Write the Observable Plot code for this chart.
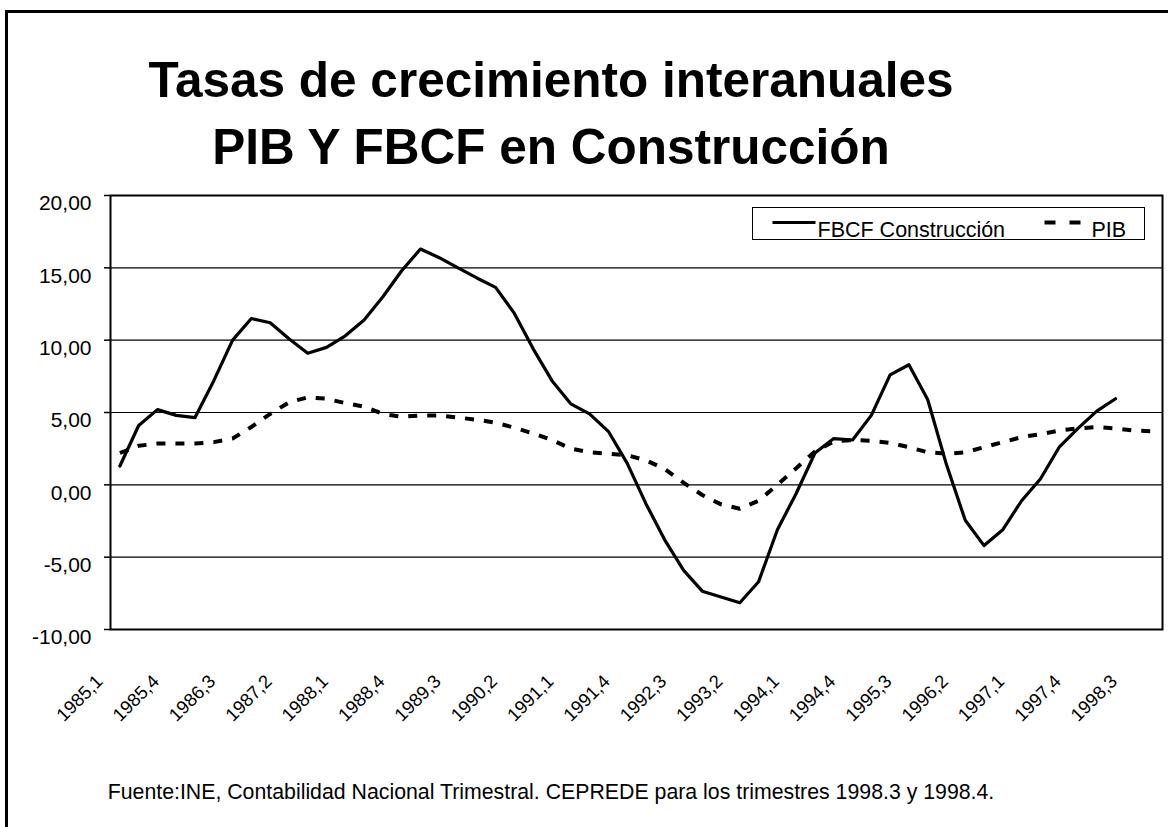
<!DOCTYPE html>
<html>
<head>
<meta charset="utf-8">
<script src="https://cdn.jsdelivr.net/npm/d3@7"></script>
<script src="https://cdn.jsdelivr.net/npm/@observablehq/plot@0.6"></script>
<style>
html, body { margin: 0; padding: 0; background: #fff; }
#wrap { position: relative; width: 1168px; height: 827px; overflow: hidden; font-family: "Liberation Sans", Arial, sans-serif; color: #000; background: #fff; }
#frame { position: absolute; left: 5px; top: 10px; width: 1300px; height: 1000px; border: 3px solid #000; box-sizing: border-box; }
#title { position: absolute; left: 0; top: 46px; width: 1102px; text-align: center; font-weight: bold; font-size: 49.5px; line-height: 67px; white-space: nowrap; }
#chart { position: absolute; left: 0; top: 170px; }
#legend { position: absolute; left: 752px; top: 207px; width: 393px; height: 33px; border: 1.5px solid #000; box-sizing: border-box; background: #fff; }
#legend svg { position: absolute; left: 0; top: 0; overflow: visible; }
#caption { position: absolute; left: 0; top: 780px; width: 1102px; text-align: center; font-size: 21.3px; line-height: 24px; white-space: nowrap; }
</style>
</head>
<body>
<div id="wrap">
  <div id="frame"></div>
  <div id="title">Tasas de crecimiento interanuales<br>PIB Y FBCF en Construcción</div>
  <div id="chart"></div>
  <div id="legend"></div>
  <div id="caption">Fuente:INE, Contabilidad Nacional Trimestral. CEPREDE para los trimestres 1998.3 y 1998.4.</div>
</div>
<script>
// Categories (quarters)
const quarters = [
  "1985,1","1985,2","1985,3","1985,4","1986,1","1986,2","1986,3","1986,4",
  "1987,1","1987,2","1987,3","1987,4","1988,1","1988,2","1988,3","1988,4",
  "1989,1","1989,2","1989,3","1989,4","1990,1","1990,2","1990,3","1990,4",
  "1991,1","1991,2","1991,3","1991,4","1992,1","1992,2","1992,3","1992,4",
  "1993,1","1993,2","1993,3","1993,4","1994,1","1994,2","1994,3","1994,4",
  "1995,1","1995,2","1995,3","1995,4","1996,1","1996,2","1996,3","1996,4",
  "1997,1","1997,2","1997,3","1997,4","1998,1","1998,2","1998,3","1998,4"
];

// Series: FBCF Construcción (to 1998,2)
const fbcf = [
  1.3, 4.1, 5.2, 4.8, 4.65, 7.2, 10.0, 11.5,
  11.2, 10.1, 9.1, 9.5, 10.3, 11.4, 13.0, 14.8,
  16.3, 15.7, 15.0, 14.3, 13.65, 11.85, 9.4, 7.2,
  5.6, 4.9, 3.7, 1.5, -1.3, -3.8, -5.9, -7.35,
  -7.75, -8.15, -6.7, -3.1, -0.6, 2.2, 3.2, 3.1,
  4.8, 7.6, 8.3, 5.9, 1.4, -2.45, -4.2, -3.1,
  -1.1, 0.4, 2.6, 3.9, 5.1, 5.95
];

// Series: PIB (to 1998,4)
const pib = [
  2.2, 2.7, 2.85, 2.85, 2.85, 2.95, 3.2, 4.0,
  4.9, 5.7, 6.05, 5.95, 5.65, 5.4, 4.9, 4.7,
  4.8, 4.8, 4.65, 4.5, 4.3, 3.95, 3.55, 3.1,
  2.5, 2.25, 2.15, 2.05, 1.7, 1.1, 0.15, -0.7,
  -1.35, -1.65, -1.1, 0.0, 1.15, 2.3, 3.0, 3.1,
  3.05, 2.9, 2.6, 2.25, 2.15, 2.25, 2.6, 2.95,
  3.3, 3.5, 3.75, 3.9, 4.0, 3.9, 3.75, 3.7
];

// Tick labels
const xTickLabels = ["1985,1","1985,4","1986,3","1987,2","1988,1","1988,4","1989,3","1990,2","1991,1","1991,4","1992,3","1993,2","1994,1","1994,4","1995,3","1996,2","1997,1","1997,4","1998,3"];
const yTicks = [-10, -5, 0, 5, 10, 15, 20];

const seriesNames = ["FBCF Construcción", "PIB"];

const rowsF = fbcf.map((v, i) => ({i, q: quarters[i], v}));
const rowsP = pib.map((v, i) => ({i, q: quarters[i], v}));
const xTicks = xTickLabels.map(l => ({i: quarters.indexOf(l), l}));
const fmt = d => d.toFixed(2).replace(".", ",");

const chart = Plot.plot({
  width: 1168,
  height: 560,
  marginTop: 25,
  marginBottom: 101,
  marginLeft: 110,
  marginRight: 6,
  style: {background: "transparent", overflow: "visible", fontFamily: "'Liberation Sans', Arial, sans-serif", color: "#000"},
  x: {domain: [-0.5, quarters.length - 0.5], axis: null},
  y: {domain: [-10, 20], axis: null},
  marks: [
    Plot.ruleY(yTicks.filter(d => d > -10 && d < 20), {stroke: "#000", strokeWidth: 1.2}),
    Plot.axisY(yTicks, {tickSize: 6, tickFormat: () => "", label: null, stroke: "#000", strokeWidth: 1.5}),
    Plot.text(yTicks, {y: d => d, frameAnchor: "left", dx: -19, textAnchor: "end", lineAnchor: "top", text: fmt, fontSize: 21, fill: "#000"}),
    Plot.text(xTicks, {x: "i", frameAnchor: "bottom", text: "l", rotate: -45, textAnchor: "end", lineAnchor: "bottom", dx: -16, dy: 53, fontSize: 18.5, fill: "#000"}),
    Plot.line(rowsP, {x: "i", y: "v", stroke: "#000", strokeWidth: 4, strokeDasharray: "9,10", strokeLinecap: "butt"}),
    Plot.line(rowsF, {x: "i", y: "v", stroke: "#000", strokeWidth: 3.2}),
    Plot.frame({stroke: "#000", strokeWidth: 2})
  ]
});
document.getElementById("chart").appendChild(chart);

// Legend
const legend = d3.select("#legend").append("svg").attr("width", 393).attr("height", 33);
const lg = legend.append("g").attr("transform", "translate(-753.5,-208.5)");
lg.append("line").attr("x1", 773).attr("x2", 816).attr("y1", 223).attr("y2", 223).attr("stroke", "#000").attr("stroke-width", 3.2);
lg.append("text").attr("x", 818).attr("y", 237.5).attr("font-size", 21.5).attr("font-family", "'Liberation Sans', Arial, sans-serif").text(seriesNames[0]);
lg.append("line").attr("x1", 1045).attr("x2", 1082).attr("y1", 223).attr("y2", 223).attr("stroke", "#000").attr("stroke-width", 4).attr("stroke-dasharray", "11,14");
lg.append("text").attr("x", 1092).attr("y", 237.5).attr("font-size", 21.5).attr("font-family", "'Liberation Sans', Arial, sans-serif").text(seriesNames[1]);
</script>
</body>
</html>
